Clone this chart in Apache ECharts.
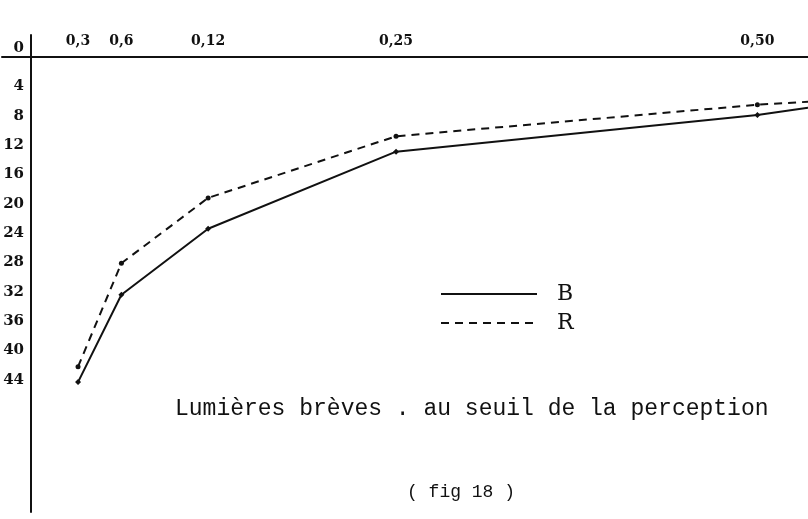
<!DOCTYPE html>
<html>
<head>
<meta charset="utf-8">
<script src="https://cdn.jsdelivr.net/npm/echarts@6/dist/echarts.min.js"></script>
<style>
  html, body { margin: 0; padding: 0; background: #fff; }
  #chart { width: 808px; height: 519px; }
</style>
</head>
<body>
<div id="chart"></div>
<script>
// durée de l'éclair (s) -> seuil
const durations = [0.03, 0.06, 0.12, 0.25, 0.50]
const durationLabels = ['0,3', '0,6', '0,12', '0,25', '0,50']
const seuilTicks = [0, 4, 8, 12, 16, 20, 24, 28, 32, 36, 40, 44]

const valuesB = [44.3, 32.4, 23.4, 12.9, 7.9]
const valuesR = [42.2, 28.1, 19.2, 10.8, 6.5]
// lines run on past the last point, off the right edge of the sheet
const edgeX = 0.535
const edgeB = 6.9
const edgeR = 6.1

const ink = '#111'
const hand = '"DejaVu Serif", serif'
const mono = '"Liberation Mono", "DejaVu Sans Mono", monospace'

function points(vals, edge) {
  const pts = durations.map((d, i) => [d, vals[i]])
  pts.push({ value: [edgeX, edge], symbol: 'none' })
  return pts
}

const chart = echarts.init(document.getElementById('chart'), null, { renderer: 'canvas' })

chart.setOption({
  animation: false,
  backgroundColor: '#fff',
  title: [
    {
      text: 'Lumières brèves . au seuil de la perception',
      left: 170, top: 392,
      textStyle: { fontFamily: mono, fontSize: 23, fontWeight: 'normal', color: ink }
    },
    {
      text: '( fig 18 )',
      left: 402, top: 478,
      textStyle: { fontFamily: mono, fontSize: 18, fontWeight: 'normal', color: ink }
    }
  ],
  legend: {
    orient: 'vertical',
    left: 440, top: 283, padding: 0,
    itemWidth: 96, itemHeight: 14, itemGap: 7,
    itemStyle: { opacity: 0 },
    textStyle: { fontFamily: hand, fontSize: 22, color: ink, padding: [0, 0, 0, 15] },
    data: ['B', 'R']
  },
  grid: { left: 2, right: 0, top: 35, bottom: 7 },
  xAxis: {
    type: 'value',
    position: 'top',
    min: -0.0226, max: edgeX,
    axisLine: { onZero: true, lineStyle: { color: ink, width: 2 } },
    axisTick: { show: false },
    splitLine: { show: false },
    axisLabel: {
      customValues: durations,
      formatter: v => durationLabels[durations.indexOf(v)] || '',
      margin: -13,
      fontFamily: hand, fontSize: 14, fontWeight: 'bold', color: ink
    }
  },
  yAxis: {
    type: 'value',
    inverse: true,
    position: 'left',
    offset: -29,
    min: -3, max: 62,
    axisLine: { onZero: false, lineStyle: { color: ink, width: 2 } },
    axisTick: { show: false },
    splitLine: { show: false },
    axisLabel: {
      customValues: seuilTicks,
      formatter: v => v === 0 ? '{z|0}' : String(v),
      margin: 7,
      fontFamily: hand, fontSize: 15, fontWeight: 'bold', color: ink,
      rich: { z: { fontFamily: hand, fontSize: 15, fontWeight: 'bold', color: ink, padding: [0, 0, 18, 0] } }
    }
  },
  series: [
    {
      name: 'B',
      type: 'line',
      data: points(valuesB, edgeB),
      symbol: 'diamond',
      symbolSize: 6,
      itemStyle: { color: ink },
      lineStyle: { color: ink, width: 2 }
    },
    {
      name: 'R',
      type: 'line',
      data: points(valuesR, edgeR),
      symbol: 'circle',
      symbolSize: 5,
      itemStyle: { color: ink },
      lineStyle: { color: ink, width: 2, type: [8, 6] }
    }
  ]
})
</script>
</body>
</html>
